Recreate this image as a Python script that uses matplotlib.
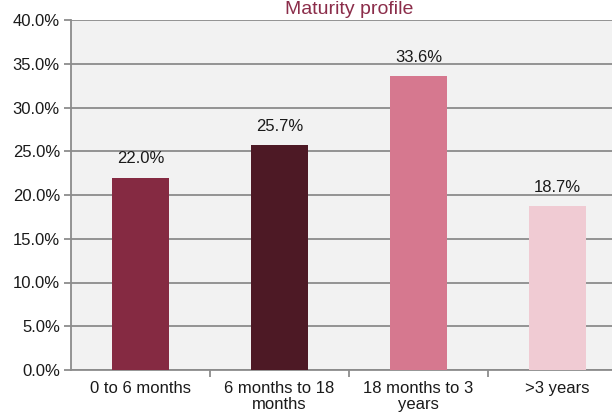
import matplotlib
matplotlib.use("Agg")
import matplotlib.pyplot as plt
from matplotlib.ticker import FuncFormatter, MultipleLocator

categories = ["0 to 6 months", "6 months to 18\nmonths", "18 months to 3\nyears", ">3 years"]
values = [22.0, 25.7, 33.6, 18.7]
colors = ["#852A42", "#4D1925", "#D6788F", "#F0CBD3"]
title = "Maturity profile"

plt.rcParams['font.family'] = ['Liberation Sans', 'DejaVu Sans']

W, H = 612, 412
fig = plt.figure(figsize=(W / 100, H / 100), dpi=100)
left, right, top, bottom = 71, 627, 20, 370
ax = fig.add_axes([left / W, 1 - bottom / H, (right - left) / W, (bottom - top) / H])
ax.set_facecolor("#F2F2F2")

x = list(range(len(categories)))
bars = ax.bar(x, values, width=0.41, color=colors, zorder=3)
for xi, v in zip(x, values):
    ax.annotate(f"{v:.1f}%", (xi, v), xytext=(0, 8), textcoords="offset points",
                ha="center", va="bottom", fontsize=12, color="#1a1a1a")

ax.set_ylim(0, 40)
ax.set_xlim(-0.5, len(categories) - 0.5)
ax.yaxis.set_major_locator(MultipleLocator(5))
ax.yaxis.set_major_formatter(FuncFormatter(lambda v, p: f"{v:.1f}%"))
ax.grid(axis="y", color="#8C8C8C", linewidth=1.3, zorder=1)
ax.set_axisbelow(True)

ax.set_xticks(x)
ax.set_xticklabels(categories, fontsize=12, color="#1a1a1a", linespacing=1.05)
ax.set_xticks([i + 0.5 for i in x[:-1]], minor=True)
ax.tick_params(axis="x", which="major", length=0, pad=8)
ax.tick_params(axis="x", which="minor", length=5, width=1.3, color="#8C8C8C")
ax.tick_params(axis="y", length=5, width=1.3, color="#8C8C8C", labelsize=12,
               labelcolor="#1a1a1a", pad=3)

for s in ["top", "right"]:
    ax.spines[s].set_visible(False)
for s in ["left", "bottom"]:
    ax.spines[s].set_color("#8C8C8C")
    ax.spines[s].set_linewidth(1.3)

fig.text((left + right) / 2 / W, 1 - 1 / H, title, ha="center", va="top",
         fontsize=14, color="#8B2D4A")

fig.savefig("out.png", dpi=100)
